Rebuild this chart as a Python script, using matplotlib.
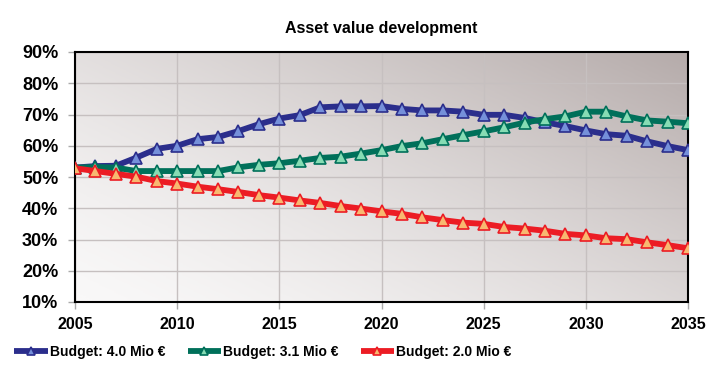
import matplotlib
matplotlib.use("Agg")
import matplotlib.pyplot as plt
import numpy as np
from matplotlib.colors import LinearSegmentedColormap

years = list(range(2005, 2036))
budget_40 = [53.0, 53.5, 53.6, 56.2, 59.0, 60.0, 62.1, 62.8, 64.7, 66.9, 68.7, 69.8, 72.3, 72.6, 72.6, 72.7,
             71.8, 71.3, 71.3, 70.9, 69.9, 69.9, 68.9, 67.5, 66.3, 64.9, 63.7, 63.2, 61.4, 59.9, 58.6]
budget_31 = [53.0, 53.2, 53.0, 51.9, 51.9, 51.9, 51.9, 51.9, 53.1, 53.9, 54.4, 55.2, 56.1, 56.5, 57.5, 58.6,
             59.9, 60.8, 62.1, 63.4, 64.6, 65.9, 67.4, 68.5, 69.4, 70.9, 70.9, 69.4, 68.1, 67.7, 67.2]
budget_20 = [52.8, 51.9, 51.0, 50.1, 48.7, 47.9, 46.9, 46.1, 45.2, 44.2, 43.4, 42.5, 41.7, 40.7, 39.9, 39.0,
             38.2, 37.1, 36.2, 35.4, 35.0, 34.0, 33.5, 32.8, 31.8, 31.3, 30.4, 30.1, 29.1, 28.2, 27.2]
labels = ["Budget: 4.0 Mio €", "Budget: 3.1 Mio €", "Budget: 2.0 Mio €"]
xticks = [2005, 2010, 2015, 2020, 2025, 2030, 2035]
yticks = [10, 20, 30, 40, 50, 60, 70, 80, 90]
title = "Asset value development"

plt.rcParams['font.family'] = ['Liberation Sans', 'DejaVu Sans']

fig = plt.figure(figsize=(7.2, 3.82), dpi=100)
ax = fig.add_axes([75/720, 1-302/382, (688-75)/720, 250/382])

# gradient background
n = 200
xx, yy = np.meshgrid(np.linspace(0, 1, n), np.linspace(0, 1, n))
g = (0.55*xx + 0.45*yy) ** 1.4
cmap = LinearSegmentedColormap.from_list("bg", ["#f9f8f8", "#b5abaa"])
ax.imshow(g, extent=[0, 1, 0, 1], transform=ax.transAxes, origin="lower",
          cmap=cmap, aspect="auto", zorder=0, interpolation="bilinear")

series = [
    (budget_40, "#2b2e8c", "#7590da"),
    (budget_31, "#00705a", "#86dcb4"),
    (budget_20, "#ec1c24", "#f8b870"),
]
for (vals, lc, fc), lab in zip(series, labels):
    ax.plot(years, vals, color=lc, lw=4.2, marker="^", markersize=8,
            markerfacecolor=fc, markeredgecolor=lc, markeredgewidth=1.2,
            label=lab, zorder=3, solid_capstyle="butt")

ax.set_xlim(2005, 2035)
ax.set_ylim(10, 90)
ax.set_xticks(xticks)
ax.set_yticks(yticks)
ax.set_yticklabels([f"{v}%" for v in yticks])
ax.grid(True, color="#c6c0c0", lw=1.0, zorder=1)
ax.set_axisbelow(True)
for s in ax.spines.values():
    s.set_color("black")
    s.set_linewidth(1.5)
ax.tick_params(axis="both", length=5, width=1, color="#aaaaaa")
ax.tick_params(axis="x", labelsize=11.5, pad=6)
ax.tick_params(axis="y", labelsize=13, pad=7)
for t in ax.get_xticklabels() + ax.get_yticklabels():
    t.set_fontweight("bold")

fig.text(381/720, 1-28/382, title, ha="center", va="center", fontsize=11.5, fontweight="bold")

leg = fig.legend(loc="center", bbox_to_anchor=(263/720, 1-352/382), ncol=3, frameon=False,
                 prop={"size": 10, "weight": "bold"}, handlelength=2.4, handletextpad=0.15,
                 columnspacing=1.6, markerscale=0.7)

fig.savefig("out.png", dpi=100)
